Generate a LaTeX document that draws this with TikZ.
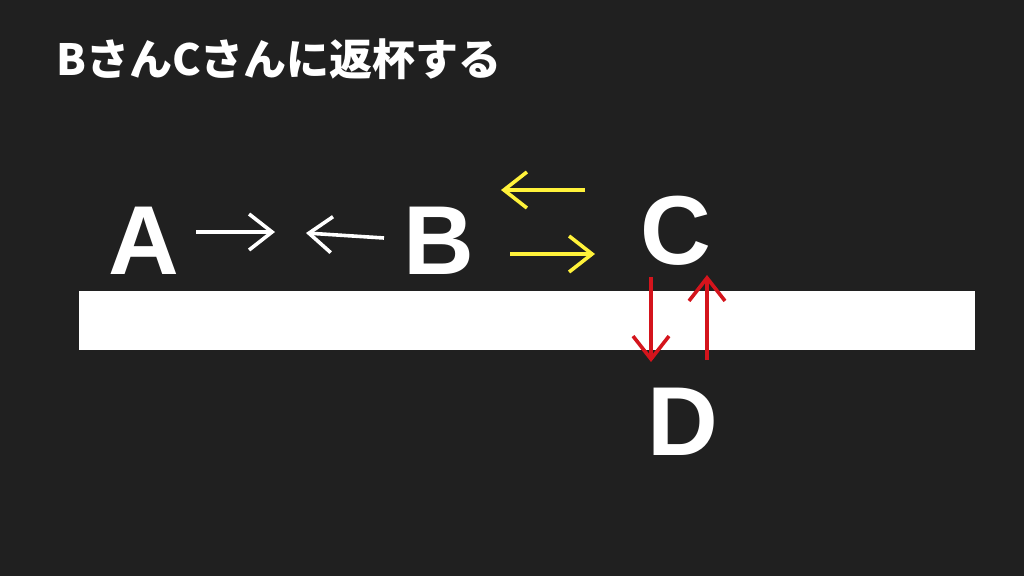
\documentclass[tikz,border=0pt]{standalone}
\usepackage{fontspec}
\setmainfont{Liberation Sans}
\newfontfamily\jpfont{Noto Sans CJK JP}
\usetikzlibrary{arrows.meta}
\definecolor{slidebg}{HTML}{202020}
\definecolor{hiyellow}{HTML}{FFF23A}
\definecolor{cupred}{HTML}{D4141C}

\begin{document}
\begin{tikzpicture}[x=1pt,y=-1pt,
    person/.style={text=white,inner sep=0pt,anchor=base,
      font=\fontsize{98}{98}\selectfont\bfseries},
    pour/.style={line width=3.6pt,-{Straight Barb[length=23pt,width=36pt]}}] % Kenpai slide
       \fill[slidebg](0,0) rectangle (1024,576);
       \node[anchor=base west,inner sep=0pt,text=white,
             font=\jpfont\fontsize{43}{43}\selectfont\bfseries] (title) at (56,75) {BさんCさんに返杯する};
       \fill[white](79,291) rectangle (975,350);
        \node[person] (A) at (144,274) {A};
        \node[person] (B) at (439,274) {B};
        \node[person] (C) at (676,264) {C};
        \node[person] (D) at (683,455) {D};
       \path
                (196,232) coordinate (ab1)
                (275,232) coordinate (ab2)
                (384,238) coordinate (ba1)
                (306,233) coordinate (ba2)
                (585,190) coordinate (cb1)
                (501,190) coordinate (cb2)
                (510,254) coordinate (bc1)
                (595,254) coordinate (bc2)
                (651,277) coordinate (cd1)
                (651,362) coordinate (cd2)
                (707,360) coordinate (dc1)
                (707,275) coordinate (dc2);
       \draw[pour,white](ab1)--(ab2);
       \draw[pour,white](ba1)--(ba2);
       \draw[pour,hiyellow](cb1)--(cb2);
       \draw[pour,hiyellow](bc1)--(bc2);
       \draw[pour,cupred](cd1)--(cd2);
       \draw[pour,cupred](dc1)--(dc2);
    \end{tikzpicture}
\end{document}
